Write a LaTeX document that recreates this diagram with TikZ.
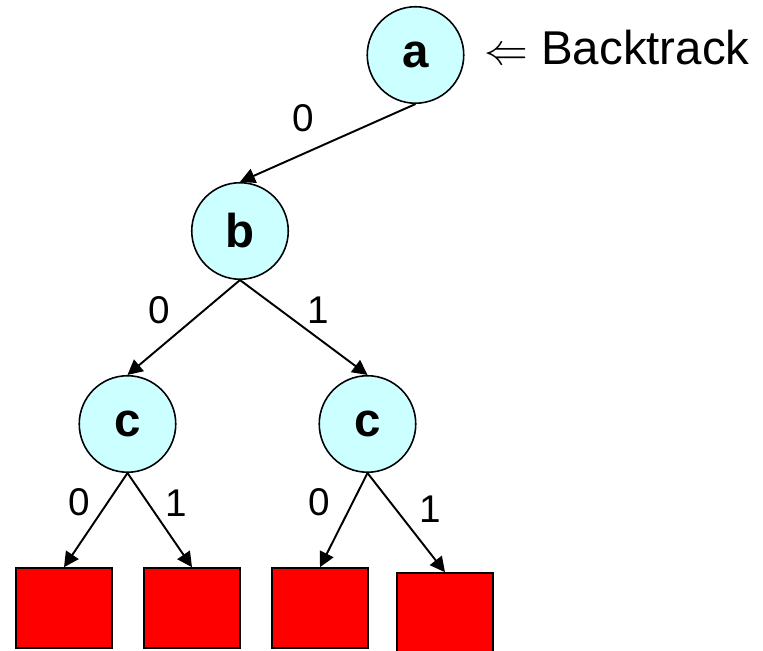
\documentclass[tikz,border=0pt]{standalone}
\usepackage{fontspec}
\setmainfont{Liberation Sans}
\usetikzlibrary{shapes,arrows.meta}

\definecolor{nodecyan}{RGB}{204,255,255}
\definecolor{leafred}{RGB}{255,0,0}

\tikzset{
  var/.style={circle, draw=black, line width=0.9pt, fill=nodecyan, minimum size=1.93cm,
    inner sep=0pt, font=\fontsize{27}{30}\selectfont\bfseries},
  leaf/.style={rectangle, draw=black, line width=0.9pt, fill=leafred, minimum width=1.93cm,
    minimum height=1.6cm, inner sep=0pt},
  edge/.style={line width=1.1pt, -{Triangle[length=0.3cm,width=0.3cm]}},
  lbl/.style={font=\fontsize{22}{24}\selectfont, inner sep=0pt}
}

\begin{document}
\begin{tikzpicture}
\useasboundingbox (0,0) rectangle (15.26,13.02);
% variable nodes
\node[var] (a) at (8.31,11.92) {\raisebox{-2pt}{a}};
\node[var] (b) at (4.80,8.40) {b};
\node[var] (c0) at (2.55,4.54) {c};
\node[var] (c1) at (7.35,4.54) {c};
% leaves
\node[leaf] (l00) at (1.28,0.86) {};
\node[leaf] (l01) at (3.84,0.86) {};
\node[leaf] (l10) at (6.40,0.86) {};
\node[leaf] (l11) at (8.90,0.76) {};
% backtrack mark
\node[anchor=base west, inner sep=0pt, font=\fontsize{27}{30}\selectfont] (bt) at (9.68,11.72) {$\Leftarrow$ Backtrack};
% branches
\draw [edge] (a.south) -- (b.north) node[lbl] (e0) at (6.06,10.66) {0};
\draw [edge] (b.south) -- (c0.north) node[lbl] (e1) at (3.19,6.81) {0};
\draw [edge] (b.south) -- (c1.north) node[lbl] (e2) at (6.36,6.82) {1};
\draw [edge] (c0.south) -- (l00.north) node[lbl] (e3) at (1.58,2.98) {0};
\draw [edge] (c0.south) -- (l01.north) node[lbl] (e4) at (3.52,2.96) {1};
\draw [edge] (c1.south) -- (l10.north) node[lbl] (e5) at (6.38,2.98) {0};
\draw [edge] (c1.south) -- (l11.north) node[lbl] (e6) at (8.60,2.84) {1};
\end{tikzpicture}
\end{document}
